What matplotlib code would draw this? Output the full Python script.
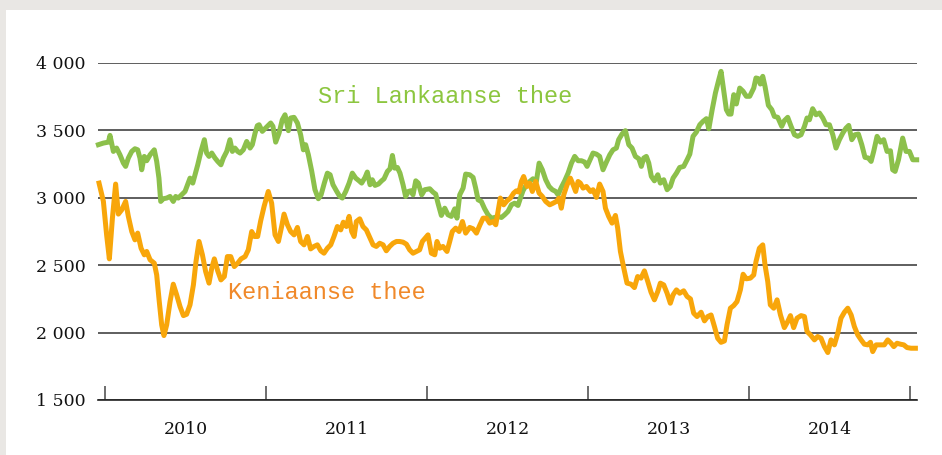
import matplotlib
matplotlib.use("Agg")
import matplotlib.pyplot as plt
from matplotlib.patches import Rectangle
from matplotlib.ticker import FuncFormatter

# weekly tea auction prices (date as decimal year)
sri_dates = [2009.959, 2009.990, 2010.021, 2010.031, 2010.052, 2010.072, 2010.093, 2010.114, 2010.128, 2010.145,
             2010.166, 2010.186, 2010.203, 2010.217, 2010.228, 2010.244, 2010.259, 2010.280, 2010.306, 2010.321,
             2010.335, 2010.346, 2010.362, 2010.383, 2010.404, 2010.424, 2010.439, 2010.455, 2010.476, 2010.497,
             2010.513, 2010.528, 2010.545, 2010.559, 2010.576, 2010.596, 2010.617, 2010.631, 2010.646, 2010.663,
             2010.683, 2010.700, 2010.720, 2010.735, 2010.756, 2010.776, 2010.791, 2010.807, 2010.824, 2010.839,
             2010.859, 2010.880, 2010.901, 2010.915, 2010.932, 2010.946, 2010.957, 2010.977, 2011.008, 2011.029,
             2011.043, 2011.060, 2011.081, 2011.101, 2011.118, 2011.139, 2011.153, 2011.174, 2011.195, 2011.215,
             2011.232, 2011.246, 2011.263, 2011.284, 2011.304, 2011.325, 2011.342, 2011.362, 2011.381, 2011.398,
             2011.416, 2011.437, 2011.458, 2011.474, 2011.495, 2011.516, 2011.536, 2011.557, 2011.578, 2011.594,
             2011.615, 2011.629, 2011.646, 2011.660, 2011.677, 2011.698, 2011.718, 2011.733, 2011.754, 2011.770,
             2011.785, 2011.799, 2011.816, 2011.832, 2011.851, 2011.867, 2011.884, 2011.899, 2011.913, 2011.930,
             2011.946, 2011.967, 2011.986, 2012.017, 2012.037, 2012.054, 2012.068, 2012.089, 2012.110, 2012.130,
             2012.151, 2012.172, 2012.186, 2012.203, 2012.224, 2012.240, 2012.265, 2012.286, 2012.302, 2012.317,
             2012.337, 2012.358, 2012.379, 2012.400, 2012.420, 2012.441, 2012.462, 2012.482, 2012.503, 2012.524,
             2012.544, 2012.565, 2012.580, 2012.596, 2012.617, 2012.638, 2012.658, 2012.679, 2012.696, 2012.716,
             2012.737, 2012.758, 2012.778, 2012.799, 2012.814, 2012.834, 2012.855, 2012.876, 2012.897, 2012.917,
             2012.938, 2012.959, 2012.979, 2012.994, 2013.010, 2013.031, 2013.052, 2013.072, 2013.093, 2013.114,
             2013.135, 2013.155, 2013.176, 2013.190, 2013.211, 2013.232, 2013.253, 2013.273, 2013.294, 2013.315,
             2013.331, 2013.346, 2013.362, 2013.377, 2013.393, 2013.412, 2013.433, 2013.449, 2013.470, 2013.491,
             2013.511, 2013.528, 2013.549, 2013.569, 2013.594, 2013.615, 2013.632, 2013.652, 2013.673, 2013.694,
             2013.714, 2013.735, 2013.750, 2013.771, 2013.791, 2013.812, 2013.826, 2013.843, 2013.859, 2013.874,
             2013.888, 2013.905, 2013.921, 2013.942, 2013.963, 2013.983, 2014.004, 2014.029, 2014.043, 2014.058,
             2014.070, 2014.085, 2014.099, 2014.120, 2014.141, 2014.157, 2014.178, 2014.203, 2014.219, 2014.240,
             2014.261, 2014.282, 2014.302, 2014.323, 2014.344, 2014.360, 2014.375, 2014.395, 2014.416, 2014.437,
             2014.458, 2014.478, 2014.499, 2014.520, 2014.540, 2014.561, 2014.582, 2014.602, 2014.619, 2014.638,
             2014.658, 2014.679, 2014.700, 2014.720, 2014.741, 2014.758, 2014.774, 2014.795, 2014.816, 2014.836,
             2014.857, 2014.878, 2014.892, 2014.907, 2014.928, 2014.954, 2014.975, 2014.996, 2015.017, 2015.041]
sri_values = [3394, 3406, 3413, 3463, 3344, 3369, 3319, 3258, 3233, 3295,
              3344, 3364, 3356, 3295, 3208, 3307, 3275, 3319, 3356, 3270,
              3146, 2973, 2993, 2998, 3010, 2973, 3010, 2998, 3022, 3047,
              3097, 3146, 3109, 3171, 3245, 3344, 3431, 3332, 3307, 3332,
              3295, 3270, 3245, 3295, 3344, 3431, 3344, 3369, 3344, 3332,
              3356, 3418, 3369, 3394, 3480, 3535, 3542, 3493, 3530, 3555,
              3530, 3413, 3480, 3579, 3616, 3498, 3592, 3597, 3555, 3468,
              3356, 3394, 3319, 3196, 3060, 2993, 3022, 3109, 3183, 3171,
              3097, 3052, 3010, 2998, 3047, 3109, 3183, 3146, 3126, 3109,
              3151, 3191, 3097, 3134, 3092, 3102, 3126, 3141, 3196, 3215,
              3314, 3220, 3225, 3183, 3097, 3010, 3047, 3052, 3022, 3126,
              3109, 3022, 3060, 3067, 3042, 3027, 2960, 2869, 2923, 2874,
              2862, 2918, 2849, 3022, 3072, 3176, 3171, 3151, 3072, 2985,
              2973, 2918, 2874, 2849, 2854, 2862, 2854, 2874, 2899, 2948,
              2960, 2943, 2998, 3052, 3097, 3121, 3141, 3121, 3257, 3208,
              3134, 3084, 3060, 3047, 3022, 3077, 3126, 3183, 3257, 3307,
              3275, 3275, 3265, 3233, 3275, 3332, 3324, 3307, 3208, 3265,
              3319, 3356, 3369, 3431, 3473, 3498, 3394, 3369, 3307, 3290,
              3233, 3295, 3307, 3258, 3159, 3126, 3171, 3109, 3134, 3060,
              3084, 3146, 3183, 3225, 3233, 3282, 3324, 3456, 3488, 3542,
              3567, 3587, 3512, 3654, 3777, 3876, 3938, 3790, 3654, 3621,
              3621, 3765, 3696, 3814, 3790, 3753, 3753, 3814, 3889, 3884,
              3844, 3901, 3827, 3686, 3654, 3604, 3597, 3530, 3572, 3597,
              3530, 3468, 3456, 3468, 3530, 3592, 3579, 3661, 3616, 3629,
              3592, 3542, 3542, 3468, 3369, 3431, 3480, 3517, 3537, 3431,
              3468, 3473, 3394, 3300, 3295, 3270, 3344, 3456, 3413, 3431,
              3344, 3349, 3208, 3196, 3282, 3443, 3344, 3344, 3282, 3282]

ken_dates = [2009.963, 2009.990, 2010.010, 2010.027, 2010.046, 2010.066, 2010.083, 2010.104, 2010.128, 2010.145,
             2010.166, 2010.186, 2010.203, 2010.224, 2010.244, 2010.259, 2010.280, 2010.306, 2010.321, 2010.337,
             2010.352, 2010.366, 2010.383, 2010.404, 2010.424, 2010.445, 2010.466, 2010.487, 2010.507, 2010.528,
             2010.549, 2010.565, 2010.584, 2010.605, 2010.625, 2010.646, 2010.663, 2010.679, 2010.700, 2010.720,
             2010.741, 2010.760, 2010.781, 2010.803, 2010.824, 2010.845, 2010.870, 2010.890, 2010.911, 2010.928,
             2010.948, 2010.967, 2010.988, 2011.014, 2011.035, 2011.056, 2011.077, 2011.097, 2011.112, 2011.133,
             2011.153, 2011.174, 2011.195, 2011.215, 2011.236, 2011.257, 2011.277, 2011.298, 2011.319, 2011.340,
             2011.360, 2011.381, 2011.402, 2011.422, 2011.443, 2011.464, 2011.480, 2011.499, 2011.516, 2011.532,
             2011.547, 2011.561, 2011.582, 2011.602, 2011.623, 2011.644, 2011.665, 2011.685, 2011.706, 2011.727,
             2011.747, 2011.768, 2011.789, 2011.810, 2011.830, 2011.851, 2011.872, 2011.892, 2011.913, 2011.934,
             2011.954, 2011.971, 2012.006, 2012.027, 2012.048, 2012.062, 2012.079, 2012.099, 2012.124, 2012.141,
             2012.157, 2012.178, 2012.199, 2012.220, 2012.240, 2012.265, 2012.286, 2012.307, 2012.327, 2012.348,
             2012.369, 2012.389, 2012.410, 2012.427, 2012.441, 2012.455, 2012.476, 2012.497, 2012.518, 2012.538,
             2012.555, 2012.571, 2012.586, 2012.600, 2012.621, 2012.638, 2012.654, 2012.675, 2012.696, 2012.716,
             2012.737, 2012.762, 2012.783, 2012.803, 2012.820, 2012.834, 2012.849, 2012.870, 2012.890, 2012.907,
             2012.923, 2012.938, 2012.952, 2012.969, 2012.990, 2013.015, 2013.031, 2013.052, 2013.072, 2013.093,
             2013.108, 2013.128, 2013.149, 2013.170, 2013.184, 2013.201, 2013.222, 2013.242, 2013.267, 2013.288,
             2013.308, 2013.329, 2013.350, 2013.371, 2013.391, 2013.412, 2013.433, 2013.449, 2013.470, 2013.491,
             2013.511, 2013.528, 2013.549, 2013.569, 2013.594, 2013.615, 2013.636, 2013.656, 2013.677, 2013.702,
             2013.723, 2013.743, 2013.764, 2013.785, 2013.805, 2013.826, 2013.847, 2013.863, 2013.884, 2013.905,
             2013.925, 2013.946, 2013.963, 2013.983, 2014.008, 2014.029, 2014.043, 2014.064, 2014.085, 2014.099,
             2014.116, 2014.132, 2014.153, 2014.174, 2014.195, 2014.219, 2014.240, 2014.257, 2014.277, 2014.298,
             2014.323, 2014.344, 2014.360, 2014.381, 2014.406, 2014.426, 2014.447, 2014.468, 2014.489, 2014.509,
             2014.530, 2014.551, 2014.571, 2014.592, 2014.613, 2014.634, 2014.654, 2014.675, 2014.696, 2014.716,
             2014.737, 2014.754, 2014.768, 2014.789, 2014.820, 2014.840, 2014.861, 2014.882, 2014.899, 2014.919,
             2014.940, 2014.961, 2014.981, 2015.006, 2015.033]
ken_values = [3109, 2973, 2725, 2547, 2849, 3102, 2879, 2911, 2973, 2862,
              2750, 2688, 2738, 2626, 2577, 2602, 2540, 2515, 2428, 2230,
              2057, 1978, 2057, 2230, 2359, 2280, 2193, 2126, 2136, 2206,
              2354, 2527, 2676, 2577, 2453, 2367, 2478, 2547, 2458, 2391,
              2416, 2564, 2564, 2490, 2515, 2547, 2564, 2614, 2750, 2713,
              2713, 2830, 2936, 3047, 2960, 2725, 2676, 2787, 2879, 2800,
              2750, 2725, 2780, 2676, 2651, 2713, 2621, 2639, 2651, 2607,
              2589, 2626, 2651, 2713, 2787, 2762, 2819, 2787, 2862, 2750,
              2713, 2824, 2844, 2787, 2762, 2706, 2651, 2639, 2663, 2651,
              2607, 2639, 2663, 2676, 2676, 2671, 2656, 2614, 2589, 2602,
              2614, 2676, 2725, 2589, 2577, 2676, 2626, 2639, 2602, 2676,
              2750, 2775, 2750, 2824, 2738, 2780, 2770, 2738, 2795, 2849,
              2849, 2812, 2824, 2800, 2899, 2998, 2948, 2978, 2998, 3035,
              3052, 3042, 3121, 3158, 3084, 3109, 3047, 3121, 3035, 3010,
              2973, 2948, 2960, 2973, 2998, 2923, 3022, 3097, 3146, 3097,
              3047, 3121, 3109, 3072, 3084, 3047, 3060, 3003, 3102, 3047,
              2923, 2862, 2812, 2869, 2775, 2602, 2478, 2367, 2359, 2334,
              2416, 2404, 2458, 2379, 2300, 2243, 2305, 2367, 2354, 2292,
              2218, 2280, 2317, 2292, 2310, 2268, 2250, 2144, 2119, 2151,
              2087, 2119, 2131, 2045, 1958, 1928, 1938, 2057, 2181, 2201,
              2230, 2317, 2433, 2399, 2404, 2428, 2527, 2626, 2651, 2503,
              2379, 2206, 2181, 2243, 2131, 2037, 2082, 2126, 2037, 2107,
              2126, 2119, 2008, 1983, 1946, 1971, 1958, 1896, 1852, 1946,
              1909, 1995, 2107, 2151, 2181, 2131, 2045, 1983, 1946, 1914,
              1909, 1928, 1859, 1909, 1909, 1909, 1946, 1921, 1896, 1921,
              1914, 1909, 1889, 1884, 1884]

years = [2010, 2011, 2012, 2013, 2014]
y_ticks = [1500, 2000, 2500, 3000, 3500, 4000]

green = '#8cc04b'
orange = '#f8a60a'

fig = plt.figure(figsize=(9.42, 4.55), dpi=100)
fig.patch.set_facecolor('#e9e7e4')
# white card inside the grey frame
fig.patches.append(Rectangle((6 / 942, 0), 1, 1 - 10 / 455, transform=fig.transFigure,
                             facecolor='white', edgecolor='none', zorder=-10))

ax = fig.add_axes([98 / 942, 55 / 455, (917 - 98) / 942, 337 / 455])
ax.set_facecolor('none')

ax.plot(sri_dates, sri_values, color=green, lw=3.6, solid_joinstyle='round', zorder=3, clip_on=False)
ax.plot(ken_dates, ken_values, color=orange, lw=3.6, solid_joinstyle='round', zorder=4, clip_on=False)

ax.set_xlim(2009.9565, 2015.043)
ax.set_ylim(1500, 4000)

ax.set_yticks(y_ticks)
ax.yaxis.set_major_formatter(FuncFormatter(lambda v, p: f"{int(v):,}".replace(",", " ")))
ax.grid(axis='y', color='#333333', lw=1.1)
ax.set_axisbelow(True)

# year boundaries as ticks, year names centred between them
ax.set_xticks([y for y in years] + [years[-1] + 1])
ax.set_xticklabels([])
ax.set_xticks([y + 0.5 for y in years], minor=True)
ax.set_xticklabels([str(y) for y in years], minor=True)

ax.tick_params(axis='x', which='major', direction='in', length=10, width=1.2, color='#555555')
ax.tick_params(axis='x', which='minor', length=0, pad=15)
ax.tick_params(axis='y', length=0, pad=9)
for lab in ax.get_xticklabels(minor=True) + ax.get_yticklabels():
    lab.set_fontfamily('DejaVu Serif')
    lab.set_fontsize(12.5)
    lab.set_color('#111111')

for s in ['top', 'right', 'left']:
    ax.spines[s].set_visible(False)
ax.spines['bottom'].set_color('#222222')
ax.spines['bottom'].set_linewidth(1.2)

ax.text(2011.323, 3755, 'Sri Lankaanse thee', color='#8cc63f', fontsize=17,
        family='Liberation Mono', va='center', ha='left')
ax.text(2010.764, 2301, 'Keniaanse thee', color='#f0892a', fontsize=17,
        family='Liberation Mono', va='center', ha='left')

fig.savefig('out.png', dpi=100, facecolor=fig.get_facecolor())
